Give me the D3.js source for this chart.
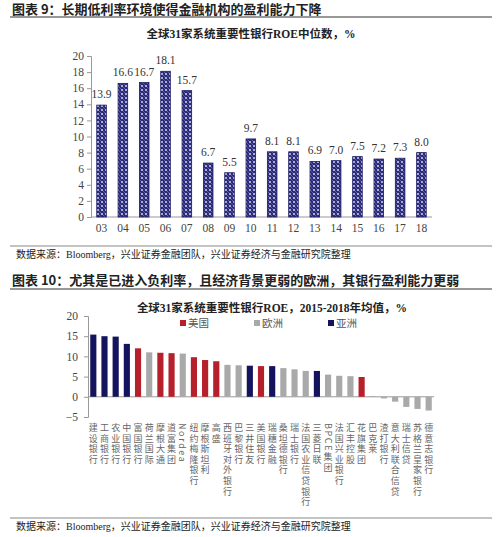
<!DOCTYPE html>
<html>
<head>
<meta charset="utf-8">
<script src="https://cdn.jsdelivr.net/npm/d3@7"></script>
<style>
  body { margin: 0; background: #fff; }
  svg { display: block; }
  .head { font-family: "Noto Sans CJK SC"; font-size: 13px; font-weight: bold; fill: #222; }
  .sub { font-family: "Liberation Serif", "Noto Sans CJK SC"; font-size: 11.5px; font-weight: bold; fill: #222; }
  .src { font-family: "Liberation Serif", "Noto Sans CJK SC"; font-size: 10px; fill: #222; }
  .axis text { font-family: "Liberation Serif"; font-size: 11.5px; fill: #444; }
  .axis path, .axis line { stroke: #999; }
</style>
</head>
<body>
<div id="chart"></div>
<script>
// chart 9: median ROE of 31 G-SIBs by year
const years = ['03', '04', '05', '06', '07', '08', '09', '10', '11', '12', '13', '14', '15', '16', '17', '18'];
const medianRoe = [13.9, 16.6, 16.7, 18.1, 15.7, 6.7, 5.5, 9.7, 8.1, 8.1, 6.9, 7.0, 7.5, 7.2, 7.3, 8.0];
const ticks1 = [0, 2, 4, 6, 8, 10, 12, 14, 16, 18, 20];

// chart 10: 2015-2018 average ROE by bank
const banks = ['建设银行', '工商银行', '农业银行', '中国银行', '富国银行', '荷兰国际', '摩根大通', '道富集团', 'Nordea',
  '纽约梅隆银行', '摩根斯坦利', '高盛', '西班牙对外银行', '巴黎银行', '三井住友', '美国银行', '瑞穗金融', '桑坦德银行',
  '瑞士银行', '法国农业信贷银行', '三菱日联', 'BPCE集团', '法国兴业银行', '汇丰控股', '花旗集团', '巴克莱',
  '渣打银行', '意大利联合信贷', '瑞士信贷', '苏格兰皇家银行', '德意志银行'];
const avgRoe = [15.4, 15.0, 14.9, 13.1, 12.0, 11.0, 10.9, 10.8, 10.7, 9.8, 9.1, 8.8, 7.9, 7.8, 7.7, 7.6, 7.6, 7.1,
  6.8, 6.4, 6.4, 5.5, 5.2, 5.1, 4.9, 0.2, -0.4, -1.2, -2.5, -3.0, -3.4];
const regions = ['亚洲', '亚洲', '亚洲', '亚洲', '美国', '欧洲', '美国', '美国', '欧洲', '美国', '美国', '美国', '欧洲', '欧洲',
  '亚洲', '美国', '亚洲', '欧洲', '欧洲', '欧洲', '亚洲', '欧洲', '欧洲', '欧洲', '美国', '欧洲', '欧洲', '欧洲', '欧洲', '欧洲', '欧洲'];
const regionNames = ['美国', '欧洲', '亚洲'];
const ticks2 = [-5, 0, 5, 10, 15, 20];

const W = 500, H = 537;
const svg = d3.select('#chart').append('svg').attr('width', W).attr('height', H);

// crosshatch fill for the first chart
const pat = svg.append('defs').append('pattern')
  .attr('id', 'hatch').attr('width', 4).attr('height', 4).attr('patternUnits', 'userSpaceOnUse');
pat.append('rect').attr('width', 4).attr('height', 4).attr('fill', '#2a2a7c');
pat.append('circle').attr('cx', 2).attr('cy', 2).attr('r', 1).attr('fill', '#d8d8ee');
pat.append('circle').attr('cx', 0).attr('cy', 0).attr('r', 0.7).attr('fill', '#b8b8de');
pat.append('circle').attr('cx', 4).attr('cy', 4).attr('r', 0.7).attr('fill', '#b8b8de');

function heading(y, text, lineY) {
  svg.append('text').attr('class', 'head').attr('x', 12).attr('y', y).text(text);
  svg.append('line').attr('x1', 10).attr('x2', 492).attr('y1', lineY).attr('y2', lineY)
    .attr('stroke', '#333').attr('stroke-width', 1);
}

function source(lineY) {
  svg.append('line').attr('x1', 10).attr('x2', 492).attr('y1', lineY).attr('y2', lineY)
    .attr('stroke', '#888').attr('stroke-width', 1);
  svg.append('text').attr('class', 'src').attr('x', 16).attr('y', lineY + 12)
    .text('数据来源：Bloomberg，兴业证券金融团队，兴业证券经济与金融研究院整理');
}

// ---- chart 9 ----
heading(14, '图表 9：长期低利率环境使得金融机构的盈利能力下降', 17);
svg.append('text').attr('class', 'sub').attr('x', 251).attr('y', 38).attr('text-anchor', 'middle')
  .text('全球31家系统重要性银行ROE中位数，%');

const x1 = d3.scaleBand().domain(years).range([91, 432]).paddingInner(0.55).paddingOuter(0.27);
const y1 = d3.scaleLinear().domain([0, 20]).range([217, 56]);

svg.append('g').attr('class', 'axis').attr('transform', 'translate(91,0)')
  .call(d3.axisLeft(y1).tickValues(ticks1).tickSize(4).tickPadding(3));
svg.append('g').attr('class', 'axis').attr('transform', 'translate(0,217)')
  .call(d3.axisBottom(x1).tickSize(0).tickPadding(7))
  .call(g => g.select('.domain').attr('d', 'M91,0H432'));

const bars1 = svg.append('g');
years.forEach((yr, i) => {
  bars1.append('rect')
    .attr('x', x1(yr)).attr('width', x1.bandwidth())
    .attr('y', y1(medianRoe[i])).attr('height', y1(0) - y1(medianRoe[i]))
    .attr('fill', 'url(#hatch)').attr('stroke', '#1c1c66').attr('stroke-width', 0.8);
  bars1.append('text')
    .attr('x', x1(yr) + x1.bandwidth() / 2).attr('y', y1(medianRoe[i]) - 7)
    .attr('text-anchor', 'middle')
    .style('font-family', 'Liberation Serif').style('font-size', '11.5px').style('fill', '#333')
    .text(medianRoe[i].toFixed(1));
});

source(246);

// ---- chart 10 ----
heading(285, '图表 10：尤其是已进入负利率，且经济背景更弱的欧洲，其银行盈利能力更弱', 289);
svg.append('text').attr('class', 'sub').attr('x', 272).attr('y', 312).attr('text-anchor', 'middle')
  .text('全球31家系统重要性银行ROE，2015-2018年均值，%');

const color = d3.scaleOrdinal().domain(regionNames).range(['#b5202a', '#a9a9a9', '#14145e']);

const legend = svg.append('g');
regionNames.forEach((r, i) => {
  const lx = 180 + i * 74;
  legend.append('rect').attr('x', lx).attr('y', 320).attr('width', 6).attr('height', 6).attr('fill', color(r));
  legend.append('text').attr('x', lx + 8).attr('y', 327)
    .style('font-family', 'Noto Sans CJK SC').style('font-size', '10.5px').style('fill', '#555').text(r);
});

const x2 = d3.scaleBand().domain(banks).range([88, 434]).paddingInner(0.45).paddingOuter(0.2);
const y2 = d3.scaleLinear().domain([-5, 20]).range([417, 316]);

svg.append('g').attr('class', 'axis').attr('transform', 'translate(88,0)')
  .call(d3.axisLeft(y2).tickValues(ticks2).tickSize(4).tickPadding(6).tickFormat(d3.format('d')));
svg.append('g').attr('class', 'axis').attr('transform', `translate(0,${y2(0)})`)
  .call(d3.axisBottom(x2).tickSize(0).tickFormat(''))
  .call(g => g.select('.domain').attr('d', 'M88,0H434'));

const bars2 = svg.append('g');
banks.forEach((b, i) => {
  const v = avgRoe[i];
  bars2.append('rect')
    .attr('x', x2(b)).attr('width', x2.bandwidth())
    .attr('y', y2(Math.max(0, v))).attr('height', Math.abs(y2(v) - y2(0)))
    .attr('fill', color(regions[i]));
  bars2.append('text')
    .attr('x', x2(b) + x2.bandwidth() / 2).attr('y', 423)
    .style('writing-mode', 'vertical-rl')
    .style('font-family', 'Noto Sans CJK SC').style('font-size', '9px')
    .style('letter-spacing', '1.6px').style('fill', '#666')
    .text(b);
});

source(518);
</script>
</body>
</html>
